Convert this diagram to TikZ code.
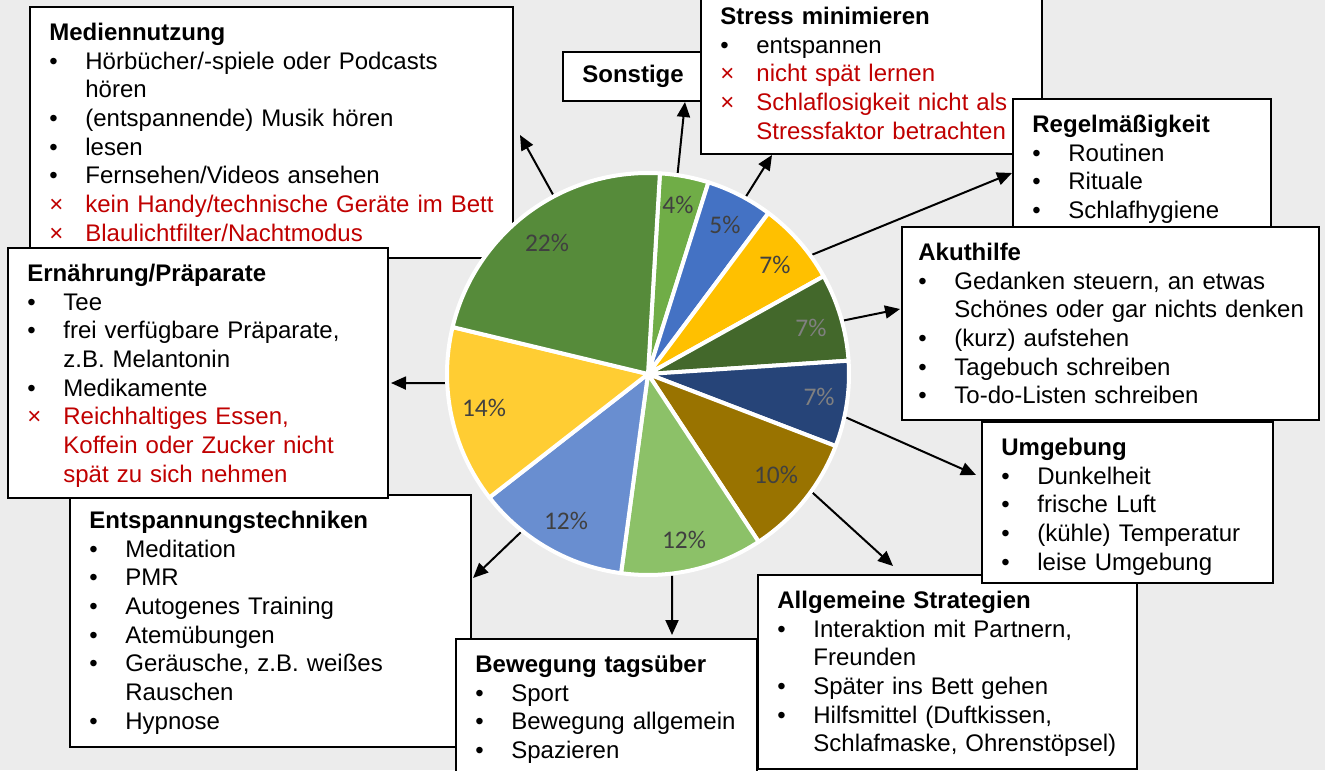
\documentclass[tikz,border=0pt]{standalone}
\usepackage{fontspec}
\setmainfont{Liberation Sans}
\newfontfamily\piefont{Carlito}
\usepackage{tikz}
\usetikzlibrary{arrows.meta, positioning, fit, calc}
\usepackage{xcolor}

\definecolor{bg}{HTML}{ECECEC}
\definecolor{warnred}{HTML}{C00000}
\definecolor{pieA}{HTML}{70AD47}
\definecolor{pieB}{HTML}{4472C4}
\definecolor{pieC}{HTML}{FFC000}
\definecolor{pieD}{HTML}{43682B}
\definecolor{pieE}{HTML}{264478}
\definecolor{pieF}{HTML}{997300}
\definecolor{pieG}{HTML}{8CC168}
\definecolor{pieH}{HTML}{698ED0}
\definecolor{pieI}{HTML}{FFCD33}
\definecolor{pieJ}{HTML}{568B3A}

% box text font, no extra gap after multi-line entries
\newcommand{\boxfont}{\fontsize{12}{14.35}\selectfont\setlength{\lineskip}{0pt}}
% list entries: marker plus a top-aligned box for the text
\newcommand{\itm}[1]{\par\noindent\makebox[18pt][l]{\textbullet}\parbox[t]{210pt}{\raggedright\strut #1\strut}}
\newcommand{\nix}[1]{\par\noindent{\color{warnred}\makebox[18pt][l]{×}\parbox[t]{210pt}{\raggedright\strut #1\strut}}}

\begin{document}
\begin{tikzpicture}[
        x=0.5pt, y=-0.5pt,
        box/.style={draw=black, line width=1pt, fill=white, inner sep=0pt},
        txt/.style={anchor=north west, text width=240pt, align=left, inner xsep=10pt, inner ysep=7pt, font=\boxfont},
        slice/.style={draw=white, line width=2pt, line join=round},
        pct/.style={font=\piefont\fontsize{12.7}{14}\selectfont, text=black!75},
        pctlight/.style={font=\piefont\fontsize{12.7}{14}\selectfont, text=black!50},
        arr/.style={line width=1pt, -{Triangle[length=7.5pt, width=6.5pt]}}
    ]
        \useasboundingbox (0,0) rectangle (1325,770);
        \clip (0,0) rectangle (1325,770);
        \fill[bg] (0,0) rectangle (1325,770);

        % Mediennutzung
        \node[box, fit={(30,7) (513,258)}] (medien) {};
        \node[txt] (medien-t) at (medien.north west) {\textbf{\strut Mediennutzung}
            \itm{Hörbücher/-spiele oder Podcasts\newline hören}
            \itm{(entspannende) Musik hören}
            \itm{lesen}
            \itm{Fernsehen/Videos ansehen}
            \nix{kein Handy/technische Geräte im Bett}
            \nix{Blaulichtfilter/Nachtmodus}};

        % Entspannungstechniken
        \node[box, fit={(70,495) (471,747)}] (entsp) {};
        \node[txt] (entsp-t) at (entsp.north west) {\textbf{\strut Entspannungstechniken}
            \itm{Meditation}
            \itm{PMR}
            \itm{Autogenes Training}
            \itm{Atemübungen}
            \itm{Geräusche, z.B. weißes\newline Rauschen}
            \itm{Hypnose}};

        % Ernaehrung
        \node[box, fit={(8,248) (388,498)}] (ernaehr) {};
        \node[txt] (ernaehr-t) at (ernaehr.north west) {\textbf{\strut Ernährung/Präparate}
            \itm{Tee}
            \itm{frei verfügbare Präparate,\newline z.B. Melantonin}
            \itm{Medikamente}
            \nix{Reichhaltiges Essen,\newline Koffein oder Zucker nicht\newline spät zu sich nehmen}};

        % Bewegung
        \node[box, fit={(456,639) (757,790)}] (beweg) {};
        \node[txt] (beweg-t) at (beweg.north west) {\textbf{\strut Bewegung tagsüber}
            \itm{Sport}
            \itm{Bewegung allgemein}
            \itm{Spazieren}};

        % Allgemeine Strategien
        \node[box, fit={(758,575) (1137,769)}] (allg) {};
        \node[txt] (allg-t) at (allg.north west) {\textbf{\strut Allgemeine Strategien}
            \itm{Interaktion mit Partnern,\newline Freunden}
            \itm{Später ins Bett gehen}
            \itm{Hilfsmittel (Duftkissen,\newline Schlafmaske, Ohrenstöpsel)}};

        % Umgebung
        \node[box, fit={(982,422) (1273,583)}] (umgeb) {};
        \node[txt] (umgeb-t) at (umgeb.north west) {\textbf{\strut Umgebung}
            \itm{Dunkelheit}
            \itm{frische Luft}
            \itm{(kühle) Temperatur}
            \itm{leise Umgebung}};

        % Sonstige
        \node[box, fit={(563,52) (703,101)}] (sonst) {};
        \node[font=\fontsize{12}{14.35}\selectfont\bfseries] (sonst-t) at (sonst.center) {Sonstige};

        % Stress minimieren
        \node[box, fit={(701,-9) (1042,154)}] (stress) {};
        \node[txt] (stress-t) at (stress.north west) {\textbf{\strut Stress minimieren}
            \itm{entspannen}
            \nix{nicht spät lernen}
            \nix{Schlaflosigkeit nicht als\newline Stressfaktor betrachten}};

        % Regelmaessigkeit
        \node[box, fit={(1013,99) (1271,260)}] (regel) {};
        \node[txt] (regel-t) at (regel.north west) {\textbf{\strut Regelmäßigkeit}
            \itm{Routinen}
            \itm{Rituale}
            \itm{Schlafhygiene}};

        % Akuthilfe
        \node[box, fit={(902,227) (1319,420)}] (akut) {};
        \node[txt, inner xsep=8.5pt] (akut-t) at (akut.north west) {\textbf{\strut Akuthilfe}
            \itm{Gedanken steuern, an etwas\newline Schönes oder gar nichts denken}
            \itm{(kurz) aufstehen}
            \itm{Tagebuch schreiben}
            \itm{To-do-Listen schreiben}};

        % Pie centre and arrow ends
        \coordinate (pc) at (648,374);
        \coordinate (s-medien)  at ($(pc)+(242.1:203)$);
        \coordinate (s-sonst)   at ($(pc)+(-81.6:203)$);
        \coordinate (s-stress)  at ($(pc)+(-61.1:203)$);
        \coordinate (s-regel)   at ($(pc)+(-36.0:203)$);
        \coordinate (s-akut)    at ($(pc)+(-15.3:203)$);
        \coordinate (s-umgeb)   at ($(pc)+(12.4:203)$);
        \coordinate (s-allg)    at ($(pc)+(35.8:203)$);
        \coordinate (s-beweg)   at ($(pc)+(83.2:203)$);
        \coordinate (s-entsp)   at ($(pc)+(128.8:203)$);
        \coordinate (s-ernaehr) at ($(pc)+(177.4:203)$);

        \coordinate (t-medien)  at (520,135);
        \coordinate (t-sonst)   at (685,102);
        \coordinate (t-stress)  at (772,155);
        \coordinate (t-regel)   at (1012,173);
        \coordinate (t-akut)    at (900,309);
        \coordinate (t-umgeb)   at (976,475);
        \coordinate (t-allg)    at (893,566);
        \coordinate (t-beweg)   at (672,635);
        \coordinate (t-entsp)   at (473,578);
        \coordinate (t-ernaehr) at (391,383);

        % Arrows
        \draw[arr] (s-medien) -- (t-medien);
        \draw[arr] (s-sonst) -- (t-sonst);
        \draw[arr] (s-stress) -- (t-stress);
        \draw[arr] (s-regel) -- (t-regel);
        \draw[arr] (s-akut) -- (t-akut);
        \draw[arr] (s-umgeb) -- (t-umgeb);
        \draw[arr] (s-allg) -- (t-allg);
        \draw[arr] (s-beweg) -- (t-beweg);
        \draw[arr] (s-entsp) -- (t-entsp);
        \draw[arr] (s-ernaehr) -- (t-ernaehr);

        % Pie slices
        \foreach \a/\b/\c in {-86.6/-72.5/pieA, -72.5/-53.2/pieB, -53.2/-29.1/pieC,
                              -29.1/-3.8/pieD, -3.8/21/pieE, 21/56.6/pieF,
                              56.6/97.7/pieG, 97.7/142.1/pieH, 142.1/193.5/pieI,
                              193.5/273.4/pieJ}
            \draw[slice, fill=\c] (pc) -- ($(pc)+(\a:201)$) arc[start angle=\a, end angle=\b, radius=201] -- cycle;

        % Percentages
        \node[pct] (p4) at (678,205) {4\%};
        \node[pct] (p5) at (725,225) {5\%};
        \node[pct] (p7a) at (775,265) {7\%};
        \node[pctlight] (p7b) at (811,328) {7\%};
        \node[pctlight] (p7c) at (819,397) {7\%};
        \node[pct] (p10) at (776,475) {10\%};
        \node[pct] (p12a) at (684,540) {12\%};
        \node[pct] (p12b) at (566,521) {12\%};
        \node[pct] (p14) at (484,408) {14\%};
        \node[pct] (p22) at (547,243) {22\%};
    \end{tikzpicture}
\end{document}
